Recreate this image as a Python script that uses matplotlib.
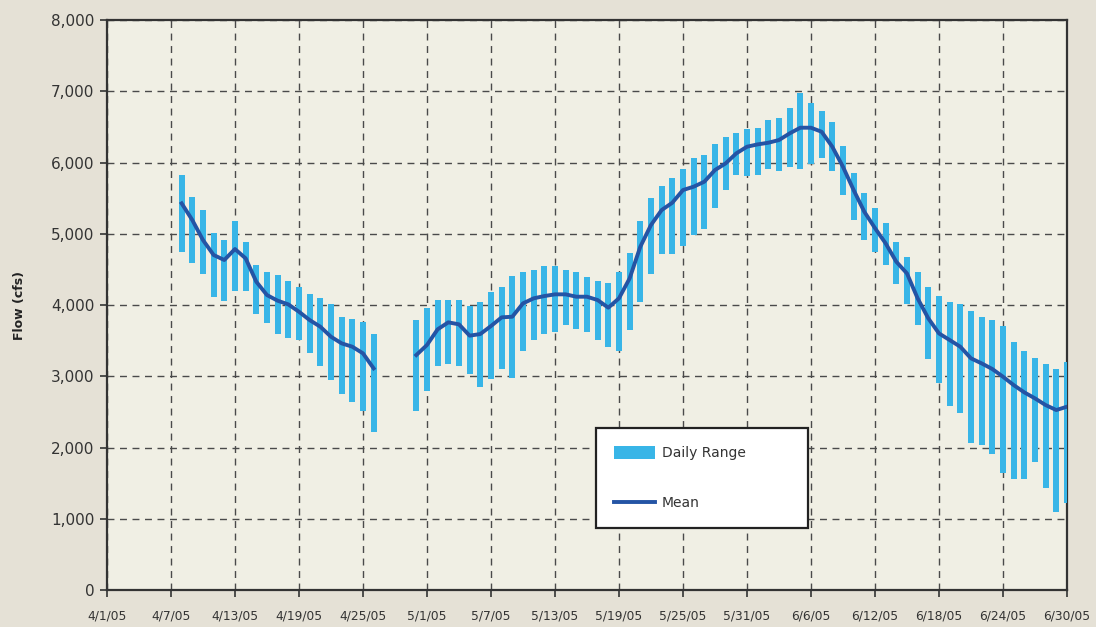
import numpy as np
import pandas as pd
import matplotlib
matplotlib.use('Agg')
import matplotlib.pyplot as plt
from matplotlib.ticker import FuncFormatter

# daily flow 4/8/05 - 6/30/05, no data 4/27 - 4/29
start = '2005-04-08'
end = '2005-06-30'

high_apr = [5825, 5516, 5333, 5010, 4912, 5178, 4884, 4561, 4463, 4421,
            4337, 4253, 4154, 4098, 4014, 3832, 3804, 3761, 3593]
low_apr = [4748, 4594, 4440, 4117, 4061, 4201, 4201, 3878, 3752, 3597,
           3541, 3513, 3331, 3148, 2952, 2755, 2643, 2516, 2222]
mean_apr = [5427, 5193, 4912, 4702, 4632, 4786, 4655, 4327, 4140, 4061,
            4009, 3906, 3789, 3696, 3555, 3462, 3415, 3322, 3111]

gap = [np.nan, np.nan, np.nan]

high_may_jun = [3789, 3953, 4070, 4070, 4070, 3986, 4042, 4182, 4253, 4407,
                4463, 4491, 4547, 4547, 4491, 4463, 4393, 4337, 4309, 4463,
                4730, 5179, 5502, 5670, 5782, 5909, 6063, 6105, 6260, 6358,
                6414, 6470, 6484, 6596, 6625, 6765, 6975, 6835, 6723, 6568,
                6232, 5853, 5572, 5366, 5151, 4884, 4674, 4463, 4253, 4126,
                4042, 4014, 3916, 3832, 3789, 3705, 3481, 3354, 3256, 3172,
                3102, 3200]
low_may_jun = [2516, 2797, 3148, 3176, 3148, 3036, 2853, 2966, 3096, 2980,
               3359, 3513, 3597, 3626, 3724, 3668, 3626, 3513, 3415, 3359,
               3653, 4047, 4440, 4720, 4720, 4833, 4987, 5071, 5366, 5618,
               5829, 5815, 5829, 5913, 5885, 5941, 5913, 5983, 6068, 5885,
               5548, 5197, 4917, 4748, 4561, 4295, 4014, 3719, 3242, 2905,
               2582, 2484, 2063, 2035, 1909, 1642, 1558, 1558, 1796, 1432,
               1095, 1221]
mean_may_jun = [3298, 3439, 3659, 3757, 3729, 3570, 3593, 3705, 3827, 3836,
                4023, 4094, 4126, 4150, 4150, 4117, 4117, 4070, 3963, 4094,
                4374, 4818, 5123, 5333, 5436, 5614, 5661, 5731, 5895, 5988,
                6129, 6222, 6255, 6278, 6316, 6409, 6489, 6489, 6432, 6222,
                5941, 5614, 5310, 5080, 4866, 4608, 4444, 4094, 3813, 3602,
                3509, 3415, 3252, 3181, 3102, 2994, 2877, 2774, 2690, 2596,
                2526, 2573]

dates = pd.date_range(start, end, freq='D')
high = np.array(high_apr + gap + high_may_jun, dtype=float)
low = np.array(low_apr + gap + low_may_jun, dtype=float)
mean = np.array(mean_apr + gap + mean_may_jun, dtype=float)

fig = plt.figure(figsize=(10.96, 6.27), dpi=100, facecolor='#E5E1D6')
ax = fig.add_axes([0.0976, 0.059, 0.8759, 0.909])
ax.set_facecolor('#F0EFE4')

# range bars + mean line
bars = ax.bar(dates, high - low, bottom=low, width=0.55, color='#38B5E7',
              label='Daily Range', zorder=3)
line, = ax.plot(dates, mean, color='#2454A5', lw=2.8, label='Mean', zorder=4)

ax.set_ylim(0, 8000)
ax.set_yticks(np.arange(0, 8001, 1000))
ax.yaxis.set_major_formatter(FuncFormatter(lambda v, p: f'{int(v):,}'))

ax.set_xlim(pd.Timestamp('2005-04-01'), pd.Timestamp('2005-06-30'))
xt = pd.date_range('2005-04-01', '2005-06-30', freq='6D')
ax.set_xticks(xt)
ax.set_xticklabels([f'{d.month}/{d.day}/{d:%y}' for d in xt])

ax.grid(True, color='#4A4A4A', linestyle=(0, (5, 4)), linewidth=1.0, zorder=1)
ax.set_axisbelow(True)

for s in ax.spines.values():
    s.set_color('#333333')
    s.set_linewidth(1.6)

ax.tick_params(axis='y', direction='out', length=5, width=1.2, pad=4,
               labelsize=11, colors='#333333')
ax.tick_params(axis='x', direction='out', length=5, width=1.2, pad=9,
               labelsize=8.8, colors='#333333')

ax.set_ylabel('Flow (cfs)', fontsize=9, fontweight='bold', color='#222222',
              labelpad=18)

leg = ax.legend([bars, line], ['Daily Range', 'Mean'], loc='upper left',
                bbox_to_anchor=(0.509, 0.107, 0.221, 0.177),
                mode='expand', frameon=True, fancybox=False, fontsize=10,
                labelspacing=2.6, borderpad=1.3, handlelength=3.0,
                handleheight=1.0, handletextpad=0.45, borderaxespad=0)
leg.get_frame().set_edgecolor('#222222')
leg.get_frame().set_linewidth(1.6)
leg.get_frame().set_facecolor('white')
leg.get_frame().set_alpha(1)
for t in leg.get_texts():
    t.set_color('#333333')

fig.savefig('out.png', dpi=100, facecolor=fig.get_facecolor())
